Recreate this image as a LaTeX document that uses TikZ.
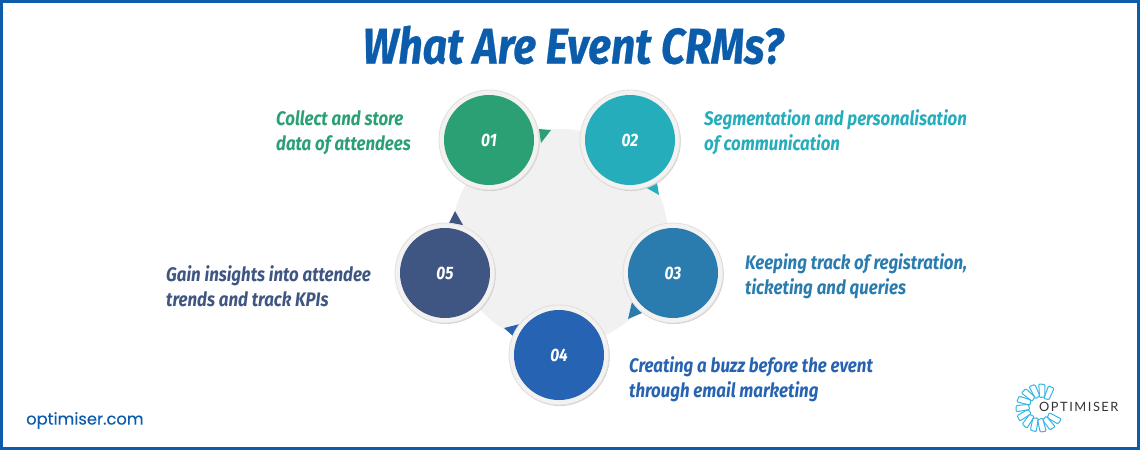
\documentclass[tikz,border=0pt]{standalone}
\usepackage{fontspec}
\setmainfont{Fira Sans}
\newfontfamily\titlefont[FakeStretch=0.86]{Fira Sans}
\newfontfamily\headfont[FakeStretch=0.855,BoldItalicFeatures={FakeBold=0.5}]{Fira Sans}
\newfontfamily\sitefont[FakeBold=0.25]{Poppins}
\newfontfamily\logofont[LetterSpace=12]{Lato}
\usepackage{tikz}
\usetikzlibrary{positioning,shadows}
\definecolor{framecol}{HTML}{0B5CAB}
\definecolor{discol}{HTML}{F1F1F2}
\definecolor{ringcol}{HTML}{F3F2F0}
\definecolor{rimcol}{HTML}{E2DEDB}
\definecolor{colA}{HTML}{2BA075}
\definecolor{colB}{HTML}{25ADBC}
\definecolor{colC}{HTML}{2A7CAF}
\definecolor{colD}{HTML}{2763B3}
\definecolor{colE}{HTML}{3F5682}
\definecolor{logocol}{HTML}{35B4E6}
\tikzset{
  ring/.style={circle,draw=rimcol,line width=0.8pt,fill=ringcol,minimum size=100pt,inner sep=0pt,
    drop shadow={shadow xshift=0.8pt,shadow yshift=-1pt,fill=black!22,opacity=0.8}},
  num/.style={circle,minimum size=90pt,inner sep=0pt,text=white,font=\titlefont\bfseries\itshape\fontsize{18}{18}\selectfont},
  lab/.style={align=left,anchor=west,inner sep=0pt,font=\titlefont\bfseries\itshape\fontsize{19.6}{25}\selectfont},
}
\begin{document}
\begin{tikzpicture}[x=1pt,y=-1pt]
    \useasboundingbox (0,0) rectangle (1140,450);
    \draw[framecol,line width=3pt] (1.5,1.5) rectangle (1138.5,448.5);
    \node [font=\headfont\bfseries\itshape\fontsize{50}{50}\selectfont,text=framecol,inner sep=0pt] (title) at (573,45) {What Are Event CRMs?};
    % centre disc and pointers
    \fill[discol] (560,237) circle (108);
    \fill[colA] (539,129) -- (551,130) -- (541,143) -- cycle;
    \fill[colB] (645,187) -- (657,183) -- (659,195) -- cycle;
    \fill[colC] (632,302) -- (642,313) -- (628,319) -- cycle;
    \fill[colD] (504,328) -- (520,324) -- (513,336) -- cycle;
    \fill[colE] (449,223) -- (455,211) -- (463,225) -- cycle;
    % circles
    \node [ring] (ringA) at (489,140) {};
    \node [ring] (ringB) at (630,140) {};
    \node [ring] (ringC) at (673,273) {};
    \node [ring] (ringD) at (559,355) {};
    \node [ring] (ringE) at (445,273) {};
    \node [num,fill=colA] (numA) at (ringA) {01};
    \node [num,fill=colB] (numB) at (ringB) {02};
    \node [num,fill=colC] (numC) at (ringC) {03};
    \node [num,fill=colD] (numD) at (ringD) {04};
    \node [num,fill=colE] (numE) at (ringE) {05};
    % labels
    \node [lab,text=colA] (labA) at (276,132.5) {Collect and store\\data of attendees};
    \node [lab,text=colB] (labB) at (704,132) {Segmentation and personalisation\\of communication};
    \node [lab,text=colC] (labC) at (745,276.5) {Keeping track of registration,\\ticketing and queries};
    \node [lab,text=colD] (labD) at (629,379) {Creating a buzz before the event\\through email marketing};
    \node [lab,text=colE] (labE) at (166,286.5) {Gain insights into attendee\\trends and track KPIs};
    % footer
    \node [anchor=west,inner sep=0pt,text=framecol,font=\sitefont\fontsize{16.3}{16.3}\selectfont] (site) at (26,420.5) {optimiser.com};
    \foreach \a in {52,76,...,316}
      \draw[logocol,line width=1pt,rounded corners=1pt,rotate around={\a:(1040,408)}]
        (1050,405) -- (1063,401) -- (1064,407) -- (1052,410) -- cycle;
    \node [anchor=west,inner sep=0pt,text=black!80,font=\logofont\fontsize{12.8}{12.8}\selectfont,fill=white,inner xsep=1pt] (logo) at (1038,407) {OPTIMISER};
\end{tikzpicture}
\end{document}
